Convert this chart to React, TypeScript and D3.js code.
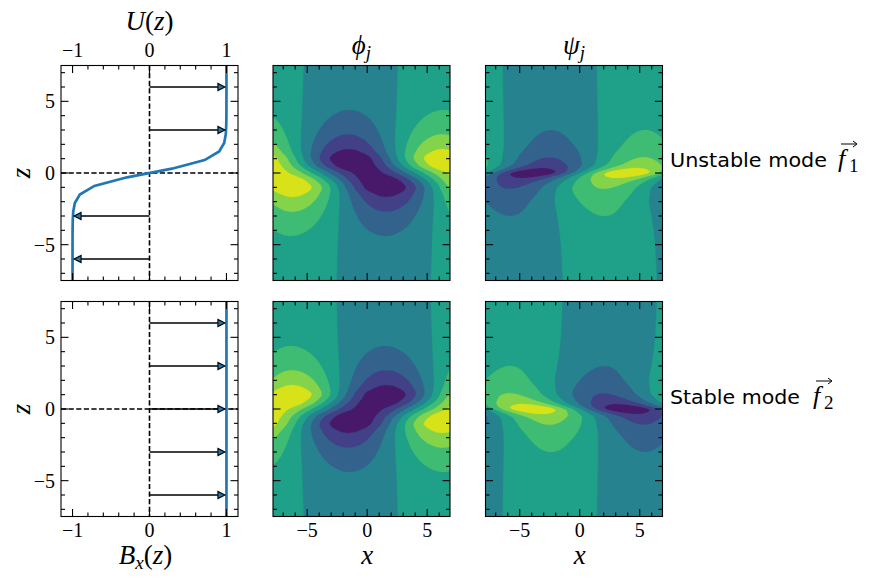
import React from "react";
import * as d3 from "d3";

// ---------- data ----------
// background flow U(z), sampled on the model grid
const zU = [-7.5, -6.9, -6.3, -5.7, -5.1, -4.5, -3.9, -3.3, -2.7, -2.1, -1.5, -0.9, -0.3, 0.3, 0.9, 1.5, 2.1, 2.7, 3.3, 3.9, 4.5, 5.1, 5.7, 6.3, 6.9, 7.5];
const U = [-1.0, -1.0, -1.0, -1.0, -0.9999, -0.9998, -0.9992, -0.9973, -0.991, -0.9705, -0.9052, -0.7163, -0.2913, 0.2913, 0.7163, 0.9052, 0.9705, 0.991, 0.9973, 0.9992, 0.9998, 0.9999, 1.0, 1.0, 1.0, 1.0];
const BxValue = 1;
const arrowZTop = [6, 3, -3, -6];
const arrowEndTop = [0.98, 0.98, -0.98, -0.98];
const arrowZBot = [6, 3, 0, -3, -6];
const arrowEndBot = [0.98, 0.98, 0.98, 0.98, 0.98];

const uTicksMajor = [-1, 0, 1];
const uTicksMinor = [-0.8, -0.6, -0.4, -0.2, 0.2, 0.4, 0.6, 0.8];
const zTicksMajor = [-5, 0, 5];
const zTicksMinor = [-7, -6, -4, -3, -2, -1, 1, 2, 3, 4, 6, 7];
const xTicksMajor = [-5, 0, 5];
const xTicksMinor = [-7, -6, -4, -3, -2, -1, 1, 2, 3, 4, 6];

const levels = [-1, -0.75, -0.5, -0.25, 0, 0.25, 0.5, 0.75, 1];
const waveK = 0.4;

// mode structure: amplitude envelope and ridge (extremum) position vs z
const phi1Z = [-7.5, -5.5, -4.3, -3.4, -2.6, -2.0, -1.5, -0.95, -0.5, 0, 0.5, 0.95, 1.5, 2.0, 2.6, 3.4, 4.3, 5.5, 7.5];
const phi1Amp = [0.07, 0.16, 0.26, 0.38, 0.52, 0.66, 0.8, 0.98, 0.95, 0.86, 0.95, 0.98, 0.8, 0.66, 0.52, 0.38, 0.26, 0.16, 0.07];
const phi1Ridge = [1.38, 1.45, 1.5, 1.55, 1.6, 1.62, 1.6, 1.45, 1.0, 0.05, -0.95, -1.35, -1.55, -1.6, -1.6, -1.55, -1.5, -1.45, -1.37];
const phi1Sign = -1;

const phi2Z = [-7.5, -5.5, -4.3, -3.4, -2.6, -2.0, -1.5, -0.95, -0.5, 0, 0.5, 0.95, 1.5, 2.0, 2.6, 3.4, 4.3, 5.5, 7.5];
const phi2Amp = [0.07, 0.16, 0.26, 0.38, 0.52, 0.66, 0.8, 0.98, 0.95, 0.86, 0.95, 0.98, 0.8, 0.66, 0.52, 0.38, 0.26, 0.16, 0.07];
const phi2Ridge = [-1.37, -1.45, -1.5, -1.55, -1.6, -1.6, -1.55, -1.35, -0.95, 0.05, 1.0, 1.45, 1.6, 1.62, 1.6, 1.55, 1.5, 1.45, 1.38];
const phi2Sign = -1;

const psi1Z = [-7.5, -5, -3, -2, -1.2, -0.6, -0.3, 0, 0.3, 0.6, 1.2, 2, 3, 5, 7.5];
const psi1Amp = [0.06, 0.13, 0.25, 0.34, 0.48, 0.62, 0.78, 0.98, 0.78, 0.62, 0.48, 0.34, 0.25, 0.13, 0.06];
const psi1Ridge = [-5.35, -5.5, -5.8, -6.0, -5.9, -5.3, -4.7, -3.9, -3.2, -2.7, -2.5, -2.4, -2.4, -2.45, -2.5];
const psi1Sign = -1;

const psi2Z = [-7.5, -5, -3, -2, -1.2, -0.6, -0.3, 0, 0.3, 0.6, 1.2, 2, 3, 5, 7.5];
const psi2Amp = [0.06, 0.13, 0.25, 0.34, 0.48, 0.62, 0.78, 0.98, 0.78, 0.62, 0.48, 0.34, 0.25, 0.13, 0.06];
const psi2Ridge = [-2.5, -2.45, -2.4, -2.4, -2.5, -2.7, -3.2, -3.9, -4.7, -5.3, -5.9, -6.0, -5.8, -5.5, -5.35];
const psi2Sign = 1;

// ---------- layout ----------
const W = 872, H = 584;
const colX: [number, number][] = [[61, 238], [273, 450], [485.5, 662.5]];
const rowY: [number, number][] = [[65.5, 280.5], [301.5, 516.5]];
const xDomain: [number, number] = [-7.85, 6.9];
const zDomain: [number, number] = [-7.5, 7.5];
const uDomain: [number, number] = [-1.15, 1.15];

const SERIF = "'Liberation Serif', 'DejaVu Serif', serif";
const SANS = "'DejaVu Sans', sans-serif";
const BLUE = "#1f77b4";
const TICK_FS = 20;
const LABEL_FS = 27;

function pchip(xs: number[], ys: number[]) {
  const n = xs.length;
  const h: number[] = [], d: number[] = [];
  for (let i = 0; i < n - 1; i++) { h[i] = xs[i + 1] - xs[i]; d[i] = (ys[i + 1] - ys[i]) / h[i]; }
  const m: number[] = new Array(n).fill(0);
  m[0] = d[0]; m[n - 1] = d[n - 2];
  for (let i = 1; i < n - 1; i++) {
    if (d[i - 1] * d[i] <= 0) m[i] = 0;
    else {
      const w1 = 2 * h[i] + h[i - 1], w2 = h[i] + 2 * h[i - 1];
      m[i] = (w1 + w2) / (w1 / d[i - 1] + w2 / d[i]);
    }
  }
  return (x: number) => {
    if (x <= xs[0]) return ys[0];
    if (x >= xs[n - 1]) return ys[n - 1];
    let i = 0;
    while (i < n - 2 && x > xs[i + 1]) i++;
    const t = (x - xs[i]) / h[i];
    const t2 = t * t, t3 = t2 * t;
    return (2 * t3 - 3 * t2 + 1) * ys[i] + (t3 - 2 * t2 + t) * h[i] * m[i] + (-2 * t3 + 3 * t2) * ys[i + 1] + (t3 - t2) * h[i] * m[i + 1];
  };
}

function Ticks({ x0, x1, y0, y1, xs, zs, xMaj, xMin, zMaj, zMin }: any) {
  const L = 7.5, l = 4;
  const segs: JSX.Element[] = [];
  const add = (key: string, a: number, b: number, c: number, d: number) =>
    segs.push(<line key={key} x1={a} y1={b} x2={c} y2={d} stroke="#000" strokeWidth={1.1} />);
  xMaj.forEach((v: number) => { const p = xs(v); add("xb" + v, p, y1, p, y1 - L); add("xt" + v, p, y0, p, y0 + L); });
  xMin.forEach((v: number) => { const p = xs(v); add("xbm" + v, p, y1, p, y1 - l); add("xtm" + v, p, y0, p, y0 + l); });
  zMaj.forEach((v: number) => { const p = zs(v); add("zl" + v, x0, p, x0 + L, p); add("zr" + v, x1, p, x1 - L, p); });
  zMin.forEach((v: number) => { const p = zs(v); add("zlm" + v, x0, p, x0 + l, p); add("zrm" + v, x1, p, x1 - l, p); });
  return <g>{segs}</g>;
}

const fmt = (v: number) => (v < 0 ? "\u2212" + Math.abs(v) : String(v));

function ContourPanel({ col, row, zn, amp, ridge, sign, id }: any) {
  const [x0, x1] = colX[col];
  const [y0, y1] = rowY[row];
  const xs = d3.scaleLinear().domain(xDomain).range([x0, x1]);
  const zs = d3.scaleLinear().domain(zDomain).range([y1, y0]);
  const nx = 177, nz = 215;
  const gxToX = d3.scaleLinear().domain([0, nx]).range(xDomain);
  const gyToZ = d3.scaleLinear().domain([0, nz]).range([zDomain[1], zDomain[0]]);
  const ampF = pchip(zn, amp), ridgeF = pchip(zn, ridge);
  const values = new Float64Array(nx * nz);
  for (let j = 0; j < nz; j++) {
    const z = gyToZ(j + 0.5);
    const a = ampF(z), c = ridgeF(z);
    for (let i = 0; i < nx; i++) {
      const x = gxToX(i + 0.5);
      values[j * nx + i] = sign * a * Math.cos(waveK * (x - c));
    }
  }
  const thr = levels.slice(1, -1);
  const cs = d3.contours().size([nx, nz]).thresholds(thr)(values as any);
  const proj = d3.geoTransform({
    point: function (this: any, gx: number, gy: number) { this.stream.point(xs(gxToX(gx)), zs(gyToZ(gy))); },
  });
  const path = d3.geoPath(proj);
  const color = (i: number) => d3.interpolateViridis((i + 0.5) / (levels.length - 1));
  return (
    <g>
      <clipPath id={id}><rect x={x0} y={y0} width={x1 - x0} height={y1 - y0} /></clipPath>
      <g clipPath={`url(#${id})`}>
        <rect x={x0} y={y0} width={x1 - x0} height={y1 - y0} fill={color(0)} />
        {cs.map((c, i) => <path key={i} d={path(c as any) || ""} fill={color(i + 1)} stroke={color(i + 1)} strokeWidth={0.3} />)}
      </g>
      <Ticks x0={x0} x1={x1} y0={y0} y1={y1} xs={xs} zs={zs} xMaj={xTicksMajor} xMin={xTicksMinor} zMaj={zTicksMajor} zMin={zTicksMinor} />
      <rect x={x0} y={y0} width={x1 - x0} height={y1 - y0} fill="none" stroke="#000" strokeWidth={1.1} />
      {row === 1 && xTicksMajor.map((v) => (
        <text key={v} x={xs(v)} y={537} textAnchor="middle" fontFamily={SERIF} fontSize={TICK_FS}>{fmt(v)}</text>
      ))}
      {row === 1 && (
        <text x={xs(0)} y={564} textAnchor="middle" fontFamily={SERIF} fontStyle="italic" fontSize={LABEL_FS}>x</text>
      )}
    </g>
  );
}

function LinePanel({ row }: any) {
  const [x0, x1] = colX[0];
  const [y0, y1] = rowY[row];
  const us = d3.scaleLinear().domain(uDomain).range([x0, x1]);
  const zs = d3.scaleLinear().domain(zDomain).range([y1, y0]);
  const line = d3.line<number>().x((d, i) => us(row === 0 ? U[i] : BxValue)).y((d) => zs(d));
  const lineD = row === 0 ? line(zU) : line(zDomain as any);
  const az = row === 0 ? arrowZTop : arrowZBot;
  const ae = row === 0 ? arrowEndTop : arrowEndBot;
  return (
    <g>
      <line x1={us(0)} x2={us(0)} y1={y0} y2={y1} stroke="#000" strokeWidth={1.6} strokeDasharray="5.2,2.4" />
      <line x1={x0} x2={x1} y1={zs(0)} y2={zs(0)} stroke="#000" strokeWidth={1.6} strokeDasharray="5.2,2.4" />
      <path d={lineD || ""} fill="none" stroke={BLUE} strokeWidth={2.7} />
      {az.map((z, i) => {
        const tip = us(ae[i]);
        const s = Math.sign(ae[i]);
        const y = zs(z);
        const hl = 7, hw = 3.6;
        return (
          <g key={i}>
            <line x1={us(0)} x2={tip - s * hl} y1={y} y2={y} stroke="#000" strokeWidth={1.6} />
            <polygon points={`${tip},${y} ${tip - s * hl},${y - hw} ${tip - s * hl},${y + hw}`} fill={BLUE} stroke="#000" strokeWidth={1.1} strokeLinejoin="miter" />
          </g>
        );
      })}
      <Ticks x0={x0} x1={x1} y0={y0} y1={y1} xs={us} zs={zs} xMaj={uTicksMajor} xMin={uTicksMinor} zMaj={zTicksMajor} zMin={zTicksMinor} />
      <rect x={x0} y={y0} width={x1 - x0} height={y1 - y0} fill="none" stroke="#000" strokeWidth={1.1} />
      {zTicksMajor.map((v) => (
        <text key={v} x={55} y={zs(v) + 7} textAnchor="end" fontFamily={SERIF} fontSize={TICK_FS}>{fmt(v)}</text>
      ))}
      {uTicksMajor.map((v) => (
        <text key={"u" + v} x={us(v)} y={row === 0 ? 57 : 537} textAnchor="middle" fontFamily={SERIF} fontSize={TICK_FS}>{fmt(v)}</text>
      ))}
      <text transform={`translate(30,${zs(0)}) rotate(-90)`} textAnchor="middle" fontFamily={SERIF} fontStyle="italic" fontSize={LABEL_FS}>z</text>
      {row === 0 ? (
        <text x={us(0)} y={30} textAnchor="middle" fontFamily={SERIF} fontSize={LABEL_FS}>
          <tspan fontStyle="italic">U</tspan>(<tspan fontStyle="italic">z</tspan>)
        </text>
      ) : (
        <text x={us(0) - 4} y={564} textAnchor="middle" fontFamily={SERIF} fontSize={LABEL_FS}>
          <tspan fontStyle="italic">B</tspan><tspan fontStyle="italic" fontSize={19} dy={5}>x</tspan><tspan dy={-5}>(</tspan><tspan fontStyle="italic">z</tspan>)
        </text>
      )}
    </g>
  );
}

function ModeLabel({ y, text, width, fx, sub }: any) {
  return (
    <g>
      <text x={670} y={y} fontFamily={SANS} fontSize={20} textLength={width} lengthAdjust="spacingAndGlyphs">{text}</text>
      <text x={fx} y={y} fontFamily={SERIF} fontStyle="italic" fontSize={26}>f</text>
      <text x={fx + 11} y={y + 5} fontFamily={SERIF} fontSize={19}>{sub}</text>
      <line x1={fx + 3} x2={fx + 18} y1={y - 23} y2={y - 23} stroke="#000" strokeWidth={1} />
      <polyline points={`${fx + 15},${y - 26} ${fx + 19},${y - 23} ${fx + 15},${y - 20}`} fill="none" stroke="#000" strokeWidth={1} />
    </g>
  );
}

export default function App() {
  return (
    <svg width={W} height={H} style={{ position: "fixed", left: 0, top: 0, background: "#fff" }} xmlns="http://www.w3.org/2000/svg">
      <rect width={W} height={H} fill="#fff" />
      <LinePanel row={0} />
      <LinePanel row={1} />
      <ContourPanel id="c1" col={1} row={0} zn={phi1Z} amp={phi1Amp} ridge={phi1Ridge} sign={phi1Sign} />
      <ContourPanel id="c2" col={2} row={0} zn={psi1Z} amp={psi1Amp} ridge={psi1Ridge} sign={psi1Sign} />
      <ContourPanel id="c3" col={1} row={1} zn={phi2Z} amp={phi2Amp} ridge={phi2Ridge} sign={phi2Sign} />
      <ContourPanel id="c4" col={2} row={1} zn={psi2Z} amp={psi2Amp} ridge={psi2Ridge} sign={psi2Sign} />
      <text x={361.5} y={54} textAnchor="middle" fontFamily={SERIF} fontSize={LABEL_FS}>
        <tspan fontStyle="italic">{"\u03D5"}</tspan><tspan fontStyle="italic" fontSize={19} dy={5}>j</tspan>
      </text>
      <text x={574} y={54} textAnchor="middle" fontFamily={SERIF} fontSize={LABEL_FS}>
        <tspan fontStyle="italic">{"\u03C8"}</tspan><tspan fontStyle="italic" fontSize={19} dy={5}>j</tspan>
      </text>
      <ModeLabel y={167} text="Unstable mode" width={157} fx={838} sub="1" />
      <ModeLabel y={404} text="Stable mode" width={130} fx={813} sub="2" />
    </svg>
  );
}
